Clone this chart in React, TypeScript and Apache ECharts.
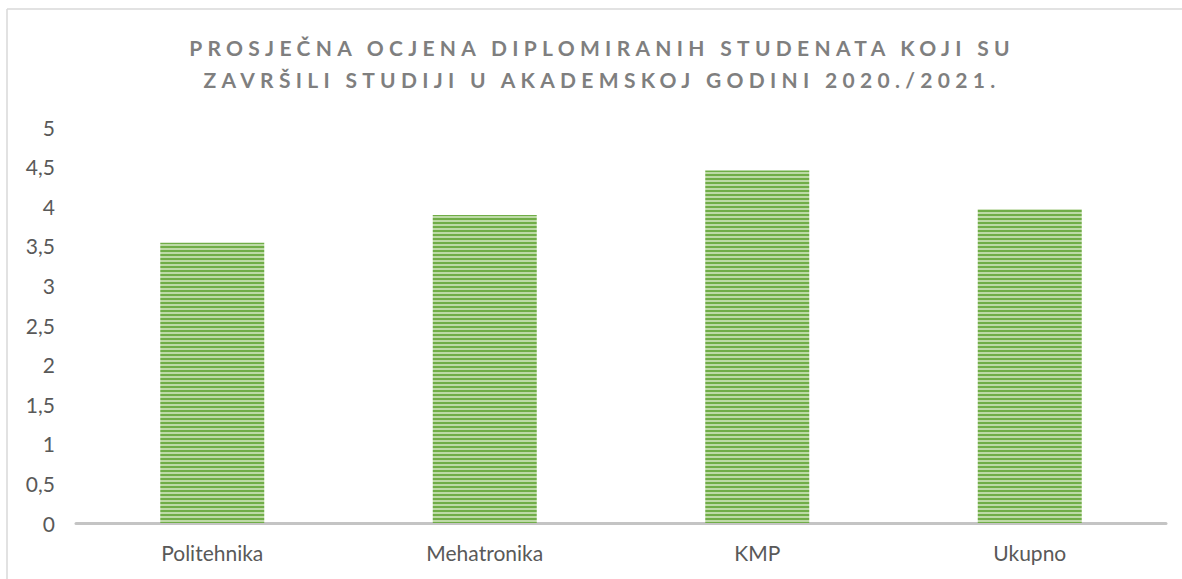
import React, { useEffect, useRef } from "react";
import * as echarts from "echarts";

const titleLines = [
  "PROSJEČNA OCJENA DIPLOMIRANIH STUDENATA KOJI SU",
  "ZAVRŠILI STUDIJI U AKADEMSKOJ GODINI 2020./2021.",
];
const categories = ["Politehnika", "Mehatronika", "KMP", "Ukupno"];
const values = [3.54, 3.89, 4.45, 3.96];
const yTickStep = 0.5;

const FONT = "Lato, 'Open Sans', sans-serif";

function makePattern(): HTMLCanvasElement {
  const c = document.createElement("canvas");
  c.width = 4;
  c.height = 4;
  const ctx = c.getContext("2d")!;
  ctx.fillStyle = "#bddaa6";
  ctx.fillRect(0, 0, 4, 4);
  ctx.fillStyle = "#70ad47";
  ctx.fillRect(0, 2, 4, 2);
  return c;
}

export default function App() {
  const ref = useRef<HTMLDivElement>(null);
  useEffect(() => {
    if (!ref.current) return;
    const chart = echarts.init(ref.current, null, { renderer: "svg" });
    const pattern = makePattern();
    chart.setOption({
      animation: false,
      backgroundColor: "#ffffff",
      title: titleLines.map((t, i) => ({
        text: t,
        left: 597,
        top: 32 + i * 32,
        textAlign: "center",
        textStyle: {
          fontFamily: FONT,
          fontSize: 21,
          fontWeight: "bold",
          color: "#7f7f7f",
        },
      })),
      grid: { left: 76, right: 16, top: 127, bottom: 56 },
      xAxis: {
        type: "category",
        data: categories,
        axisLine: { lineStyle: { color: "#c4c4c4", width: 3 } },
        axisTick: { show: false },
        axisLabel: {
          fontFamily: FONT,
          fontSize: 21,
          color: "#595959",
          margin: 19,
        },
      },
      yAxis: {
        type: "value",
        min: 0,
        max: 5,
        interval: yTickStep,
        splitLine: { show: false },
        axisLine: { show: false },
        axisTick: { show: false },
        axisLabel: {
          fontFamily: FONT,
          fontSize: 21,
          color: "#595959",
          margin: 21,
          formatter: (v: number) => String(v).replace(".", ","),
        },
      },
      series: [
        {
          type: "bar",
          data: values,
          barWidth: 104,
          itemStyle: {
            color: { image: pattern, repeat: "repeat" },
          },
        },
      ],
      graphic: [
        {
          type: "line",
          shape: { x1: 7, y1: 9, x2: 1182, y2: 9 },
          style: { stroke: "#d9d9d9", lineWidth: 1.5 },
        },
        {
          type: "line",
          shape: { x1: 7, y1: 9, x2: 7, y2: 579 },
          style: { stroke: "#d9d9d9", lineWidth: 1.5 },
        },
      ],
    });
    const applySpacing = () => {
      ref.current?.querySelectorAll("text").forEach((el) => {
        const t = el.textContent || "";
        if (titleLines.includes(t)) {
          el.setAttribute("letter-spacing", "5.3px");
        }
      });
    };
    applySpacing();
    chart.on("finished", applySpacing);
    return () => chart.dispose();
  }, []);
  return (
    <div
      ref={ref}
      style={{ position: "fixed", left: 0, top: 0, width: 1182, height: 579 }}
    />
  );
}
